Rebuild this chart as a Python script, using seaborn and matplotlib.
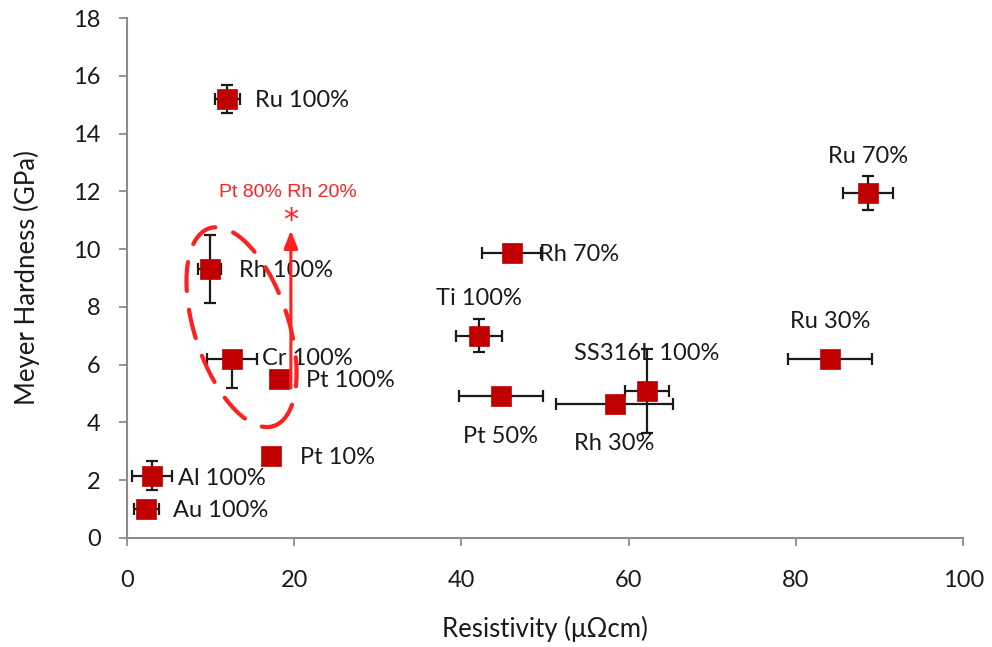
import numpy as np
import pandas as pd
import matplotlib
matplotlib.use("Agg")
import matplotlib.pyplot as plt
import seaborn as sns

# ---- data ----
labels = ["Ru 100%", "Rh 100%", "Cr 100%", "Pt 100%", "Pt 10%", "Al 100%", "Au 100%",
          "Rh 70%", "Ti 100%", "Pt 50%", "Rh 30%", "SS316L 100%", "Ru 70%", "Ru 30%"]
resistivity = [12.0, 9.9, 12.6, 18.2, 17.2, 3.0, 2.3, 46.0, 42.1, 44.7, 58.3, 62.2, 88.6, 84.1]
hardness = [15.2, 9.3, 6.2, 5.5, 2.85, 2.15, 1.0, 9.85, 7.0, 4.9, 4.65, 5.1, 11.95, 6.2]
x_err = [1.5, 1.4, 3.0, 0.0, 0.0, 2.4, 1.5, 3.5, 2.75, 5.0, 7.0, 2.6, 3.0, 5.0]
y_err_low = [0.5, 1.15, 1.0, 0.2, 0.0, 0.5, 0.15, 0.15, 0.57, 0.0, 0.0, 1.45, 0.6, 0.0]
y_err_high = [0.5, 1.2, 0.0, 0.0, 0.0, 0.5, 0.15, 0.15, 0.57, 0.0, 0.0, 1.45, 0.6, 0.0]
# label placement: (dx, dy) offsets in points, alignment
label_dx = [20, 21, 21, 19, 21, 19, 19, 20, 0, 0, 0, 0, 0, 0]
label_dy = [-1, -1, 0, -1, -1, -2, -1, -1, 27, -29, -29, 27, 26, 27]
label_ha = ["left"] * 8 + ["center"] * 6

x_ticks = [0, 20, 40, 60, 80, 100]
y_ticks = [0, 2, 4, 6, 8, 10, 12, 14, 16, 18]

df = pd.DataFrame({"Resistivity": resistivity, "Hardness": hardness})

sns.set_theme(style="white")
plt.rcParams["font.family"] = ["Lato", "DejaVu Sans"]

fig = plt.figure(figsize=(9.92, 6.47), dpi=100)
ax = fig.add_axes([0.128, 0.1685, 0.843, 0.8035])

ax.errorbar(resistivity, hardness, xerr=x_err, yerr=[y_err_low, y_err_high],
            fmt="none", ecolor="#1a1a1a", elinewidth=1.6, capsize=4.5, capthick=1.6, zorder=2)
sns.scatterplot(data=df, x="Resistivity", y="Hardness", marker="s", s=210,
                color="#C00000", edgecolor="#C00000", linewidth=0.5, ax=ax, zorder=3)

for lab, xv, yv, dx, dy, ha in zip(labels, resistivity, hardness, label_dx, label_dy, label_ha):
    ax.annotate(lab, (xv, yv), xytext=(dx, dy), textcoords="offset points",
                ha=ha, va="center", fontsize=17, color="#1a1a1a", zorder=4)

ax.set_xlim(0, 100)
ax.set_ylim(0, 18)
ax.set_xticks(x_ticks)
ax.set_yticks(y_ticks)
ax.tick_params(axis="both", labelsize=17, colors="#1a1a1a", length=6, width=1.3,
               color="#8c8c8c", direction="out", bottom=True, left=True)
ax.tick_params(axis="x", pad=17)
ax.tick_params(axis="y", pad=13)
for s in ["top", "right"]:
    ax.spines[s].set_visible(False)
for s in ["left", "bottom"]:
    ax.spines[s].set_color("#8c8c8c")
    ax.spines[s].set_linewidth(1.5)
ax.set_xlabel("Resistivity (μΩcm)", fontsize=18.5, color="#1a1a1a", labelpad=18)
ax.set_ylabel("Meyer Hardness (GPa)", fontsize=18.5, color="#1a1a1a", labelpad=24)

# ---- red annotation: dashed ellipse, arrow, asterisk ----
px_x = 8.36   # pixels per x unit
px_y = 28.9   # pixels per y unit
cx, cy = 13.7, 7.3            # ellipse center (data)
a_px, b_px = 104, 47          # semi axes (pixels)
ang = np.deg2rad(-72.0)       # major axis angle in pixel space (y up)
t = np.linspace(0, 2 * np.pi, 400)
ex = a_px * np.cos(t) * np.cos(ang) - b_px * np.sin(t) * np.sin(ang)
ey = a_px * np.cos(t) * np.sin(ang) + b_px * np.sin(t) * np.cos(ang)
ax.plot(cx + ex / px_x, cy + ey / px_y, color="#FF2020", lw=3.0,
        dashes=(7, 4.5), zorder=5, dash_capstyle="round")
ax.annotate("", xy=(19.6, 10.75), xytext=(19.6, 5.1),
            arrowprops=dict(arrowstyle="-|>,head_length=0.9,head_width=0.35",
                            color="#FF2020", lw=2.2), zorder=5)
ax.text(19.6, 11.0, "*", color="#FF2020", fontsize=22, ha="center", va="center",
        family="DejaVu Sans", zorder=5)
ax.text(19.2, 11.95, "Pt 80% Rh 20%", color="#FF2020", fontsize=14, ha="center",
        va="center", family="Liberation Sans", zorder=5)

fig.savefig("out.png", dpi=100)
